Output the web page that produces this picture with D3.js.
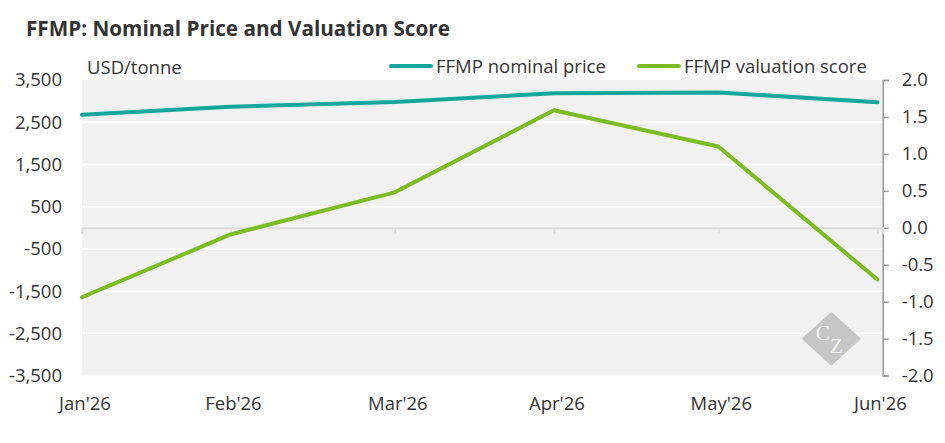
<!DOCTYPE html>
<html>
<head>
<meta charset="utf-8">
<script src="https://cdn.jsdelivr.net/npm/d3@7"></script>
<style>
  body { margin: 0; background: #fff; }
  svg text { font-family: "Open Sans", sans-serif; fill: #333; }
</style>
</head>
<body>
<script>
// chart values
const months = ['2026-01-31', '2026-02-28', '2026-03-31', '2026-04-30', '2026-05-31', '2026-06-30'];
const monthLabels = ["Jan'26", "Feb'26", "Mar'26", "Apr'26", "May'26", "Jun'26"];
const nominalPrice = [2675, 2865, 2980, 3185, 3205, 2975];
const valuationScore = [-0.94, -0.09, 0.48, 1.59, 1.1, -0.7];
const leftTicks = [3500, 2500, 1500, 500, -500, -1500, -2500, -3500];
const rightTicks = [2.0, 1.5, 1.0, 0.5, 0.0, -0.5, -1.0, -1.5, -2.0];

const w = 945, h = 443;
const parse = d3.timeParse('%Y-%m-%d');
const dates = months.map(parse);

const pLeft = 82, pRight = 882.7, pTop = 80, pBottom = 375.6;
const labelSize = '18.5px';

// plain hyphen instead of the unicode minus d3 uses
const hyphen = f => d => f(d).replace('\u2212', '-');

const svg = d3.select('body').append('svg')
    .attr('width', w)
    .attr('height', h);

const x = d3.scaleTime()
    .domain([dates[0], d3.timeDay.offset(dates[dates.length - 1], 1)])
    .range([pLeft, pRight]);
const yL = d3.scaleLinear().domain([-3500, 3500]).range([pBottom, pTop]);
const yR = d3.scaleLinear().domain([-2, 2]).range([pBottom, pTop]);

// title
svg.append('text')
    .attr('x', 26).attr('y', 35.5)
    .style('font-size', '20.7px')
    .style('font-weight', 'bold')
    .text('FFMP: Nominal Price and Valuation Score');

// plot background
svg.append('rect')
    .attr('x', pLeft).attr('y', pTop)
    .attr('width', pRight - pLeft).attr('height', pBottom - pTop)
    .attr('fill', '#f1f1f1');

// grid lines
svg.append('g').selectAll('line')
    .data(leftTicks.slice(1, -1))
    .enter().append('line')
    .attr('x1', pLeft).attr('x2', pRight)
    .attr('y1', d => yL(d)).attr('y2', d => yL(d))
    .attr('stroke', '#fff')
    .attr('stroke-width', 2);

// left axis labels
const leftAxis = d3.axisLeft(yL).tickValues(leftTicks).tickSize(0).tickPadding(20)
    .tickFormat(hyphen(d3.format(',')));
svg.append('g')
    .attr('transform', 'translate(' + pLeft + ',0)')
    .call(leftAxis)
    .call(g => g.select('.domain').remove())
    .call(g => g.selectAll('text').style('font-size', labelSize).attr('fill', '#333'));

// right axis
const rightAxis = d3.axisRight(yR).tickValues(rightTicks).tickSize(6).tickPadding(13)
    .tickFormat(hyphen(d3.format('.1f')));
svg.append('g')
    .attr('transform', 'translate(' + pRight + ',0)')
    .call(rightAxis)
    .call(g => g.select('.domain').attr('stroke', '#999').attr('stroke-width', 1.5))
    .call(g => g.selectAll('line').attr('stroke', '#999').attr('stroke-width', 1.5))
    .call(g => g.selectAll('text').style('font-size', labelSize).attr('fill', '#333'));

// category axis at zero
const xAxis = d3.axisBottom(x).tickValues(dates).tickSizeOuter(0).tickSize(6).tickFormat('');
svg.append('g')
    .attr('transform', 'translate(0,' + yL(0) + ')')
    .call(xAxis)
    .call(g => g.select('.domain').attr('stroke', '#dcdcdc').attr('stroke-width', 2))
    .call(g => g.selectAll('.tick line').attr('stroke', '#dcdcdc').attr('stroke-width', 1.5));

// month labels
svg.append('g').selectAll('text')
    .data(dates)
    .enter().append('text')
    .attr('x', d => x(d) + 3)
    .attr('y', 410)
    .attr('text-anchor', 'middle')
    .style('font-size', labelSize)
    .text((d, i) => monthLabels[i]);

// unit label
svg.append('text')
    .attr('x', 87).attr('y', 74)
    .style('font-size', labelSize)
    .text('USD/tonne');

// watermark
const lg = svg.append('g').attr('transform', 'translate(831.3,338.7)');
lg.append('polygon')
    .attr('points', '0,-27 29.7,0 0,27 -29.7,0')
    .attr('fill', '#c6c6c6');
lg.append('text').attr('x', -8.5).attr('y', 1.5)
    .attr('text-anchor', 'middle')
    .style('font-family', '"Liberation Serif", serif')
    .style('font-size', '21px').style('fill', '#f4f4f4')
    .text('C');
lg.append('text').attr('x', 5).attr('y', 14.5)
    .attr('text-anchor', 'middle')
    .style('font-family', '"Liberation Serif", serif')
    .style('font-size', '21px').style('fill', '#f4f4f4')
    .text('Z');

// series lines
const priceLine = d3.line().x((d, i) => x(dates[i])).y(d => yL(d));
const scoreLine = d3.line().x((d, i) => x(dates[i])).y(d => yR(d));

svg.append('path')
    .datum(valuationScore)
    .attr('d', scoreLine)
    .attr('fill', 'none')
    .attr('stroke', '#7dbb24')
    .attr('stroke-width', 4)
    .attr('stroke-linecap', 'round')
    .attr('stroke-linejoin', 'round');

svg.append('path')
    .datum(nominalPrice)
    .attr('d', priceLine)
    .attr('fill', 'none')
    .attr('stroke', '#14a89c')
    .attr('stroke-width', 4)
    .attr('stroke-linecap', 'round')
    .attr('stroke-linejoin', 'round');

// legend
const legend = [
  { name: 'FFMP nominal price', color: '#14a89c', x: 391 },
  { name: 'FFMP valuation score', color: '#7dbb24', x: 639 }
];
const lgd = svg.append('g').selectAll('g')
    .data(legend)
    .enter().append('g')
    .attr('transform', d => 'translate(' + d.x + ',66)');
lgd.append('line')
    .attr('x1', 0).attr('x2', 40)
    .attr('stroke', d => d.color)
    .attr('stroke-width', 4)
    .attr('stroke-linecap', 'round');
lgd.append('text')
    .attr('x', 45).attr('y', 7)
    .style('font-size', labelSize)
    .text(d => d.name);
</script>
</body>
</html>
